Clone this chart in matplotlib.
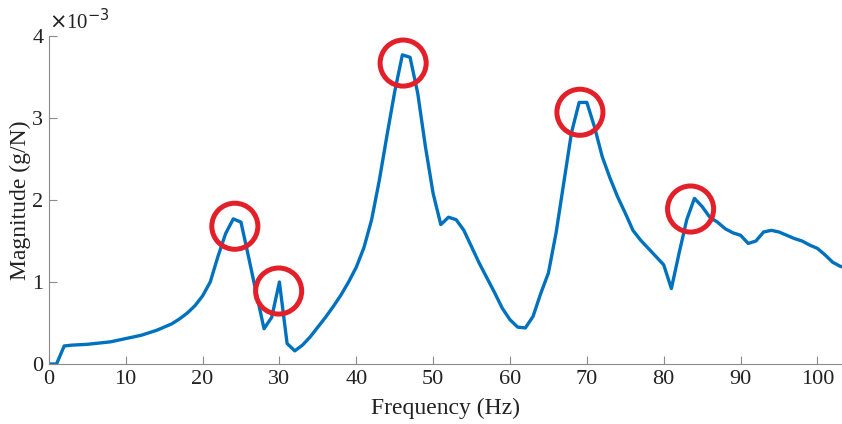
import numpy as np
import matplotlib.pyplot as plt

plt.rcParams['font.family'] = ['Liberation Serif', 'DejaVu Serif']

freq = np.arange(0, 105)
mag = np.array([
    0.00, 0.00, 0.22, 0.23, 0.235, 0.24, 0.25, 0.26, 0.27, 0.29,
    0.31, 0.33, 0.35, 0.38, 0.41, 0.45, 0.49, 0.55, 0.62, 0.71,
    0.83, 1.00, 1.31, 1.59, 1.77, 1.73, 1.30, 0.86, 0.43, 0.57,
    1.00, 0.25, 0.16, 0.23, 0.33, 0.45, 0.57, 0.70, 0.84, 1.00,
    1.18, 1.42, 1.76, 2.24, 2.79, 3.32, 3.77, 3.74, 3.30, 2.65,
    2.08, 1.70, 1.79, 1.76, 1.63, 1.43, 1.23, 1.05, 0.87, 0.68,
    0.54, 0.45, 0.44, 0.58, 0.86, 1.11, 1.60, 2.21, 2.82, 3.19,
    3.19, 2.89, 2.53, 2.27, 2.04, 1.84, 1.63, 1.51, 1.41, 1.31,
    1.21, 0.92, 1.35, 1.76, 2.02, 1.92, 1.79, 1.73, 1.65, 1.60,
    1.57, 1.47, 1.50, 1.61, 1.63, 1.61, 1.57, 1.53, 1.50, 1.45,
    1.41, 1.33, 1.24, 1.19, 1.17,
]) * 1e-3

# highlighted peaks
circle_x = [24.2, 29.9, 46.1, 69.1, 83.5]
circle_y = [1.68, 0.89, 3.67, 3.07, 1.89]

fig = plt.figure(figsize=(8.42, 4.24), dpi=100)
ax = fig.add_axes([0.058, 0.1415, 0.942, 0.7736])

ax.plot(freq, mag, color='#0072BD', lw=2.4, zorder=2)
ax.scatter(circle_x, np.array(circle_y) * 1e-3, s=1100, facecolors='none',
           edgecolors='#E3202A', linewidths=3.6, zorder=3, clip_on=False)

ax.set_xlim(0, 103.2)
ax.set_ylim(0, 4e-3)
ax.set_xticks(np.arange(0, 101, 10))
ax.set_yticks(np.arange(0, 5) * 1e-3)
ax.set_yticklabels([str(i) for i in range(5)])

for s in ['top', 'right']:
    ax.spines[s].set_visible(False)
for s in ['left', 'bottom']:
    ax.spines[s].set_color('#8a8a8a')
    ax.spines[s].set_linewidth(0.8)
ax.tick_params(direction='in', length=6, width=0.8, color='#8a8a8a',
               labelsize=16, labelcolor='#222222', pad=4)

ax.set_xlabel('Frequency (Hz)', fontsize=17, color='#222222', labelpad=7)
ax.set_ylabel('Magnitude (g/N)', fontsize=17, color='#222222', labelpad=1)
ax.text(0.0, 1.005, r'$\times$10$^{-3}$', transform=ax.transAxes,
        fontsize=15, color='#222222', va='bottom', ha='left')

fig.savefig('out.png', dpi=100)
